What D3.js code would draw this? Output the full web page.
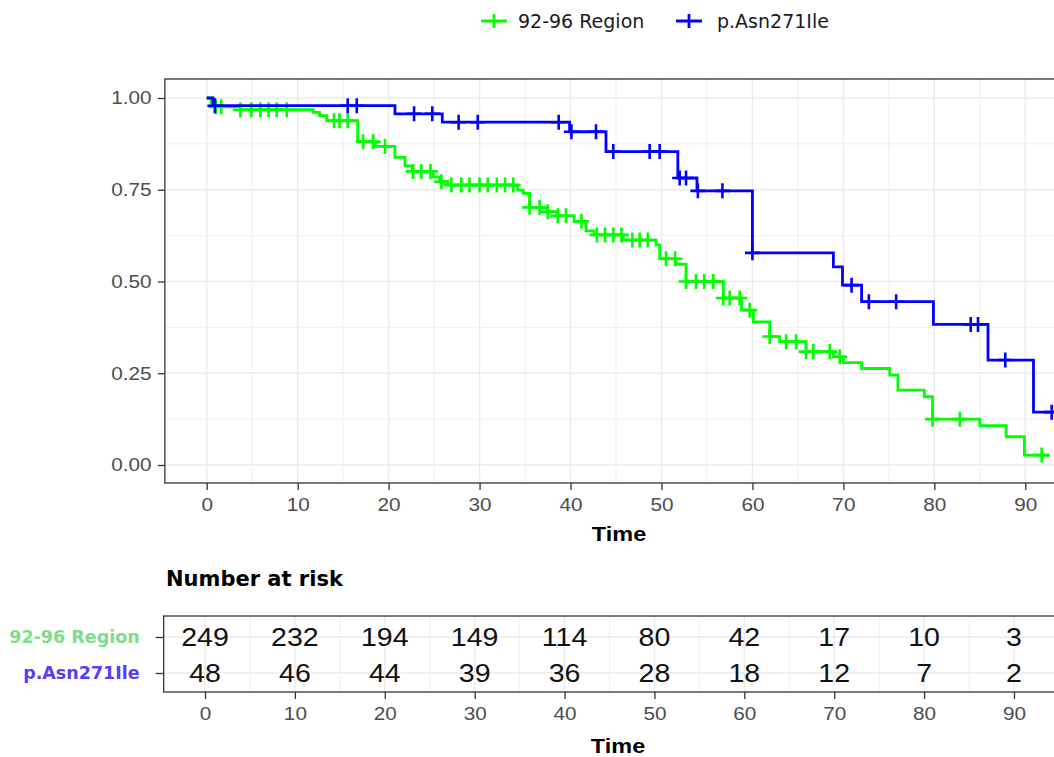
<!DOCTYPE html>
<html>
<head>
<meta charset="utf-8">
<script src="https://cdn.jsdelivr.net/npm/d3@7"></script>
<style>
  body { margin: 0; background: #fff; }
  svg { display: block; }
</style>
</head>
<body>
<div id="plot"></div>
<script>
// groups
var groups = ['92-96 Region', 'p.Asn271Ile'];
var lineColors = ['#00ff00', '#0000ff'];
var labelColors = ['#7fdc8e', '#5a3cf4'];

// 92-96 region: step times and survival after each step
var regionTimes = [0, 0.5, 3.7, 11.7, 12.4, 13.2, 16.6, 18.5, 20.7, 21.8, 22.6, 24.9, 25.6, 26.5, 34.2, 34.8,
    35.5, 37.4, 38.5, 40.4, 41.7, 42.6, 45.8, 49.4, 49.8, 51.6, 52.7, 56.8, 58.8, 60.1, 61.9, 63.0,
    65.9, 68.9, 70.0, 72.0, 75.1, 76.0, 78.9, 79.8, 85.0, 87.9, 89.9];
var regionSurv = [1, 0.976, 0.968, 0.961, 0.952, 0.938, 0.881, 0.868, 0.838, 0.815, 0.8, 0.785, 0.772, 0.763, 0.749, 0.74,
    0.702, 0.69, 0.679, 0.664, 0.638, 0.627, 0.613, 0.6, 0.562, 0.547, 0.5, 0.455, 0.422, 0.39, 0.35, 0.336,
    0.309, 0.295, 0.279, 0.263, 0.245, 0.204, 0.186, 0.125, 0.107, 0.077, 0.027];
var regionCensor = [1.0, 1.6, 3.7, 4.9, 5.9, 6.8, 7.7, 8.8, 14.0, 14.6, 15.5, 17.2, 18.3, 19.6, 22.7, 23.6, 24.6,
    25.8, 26.9, 28.0, 28.9, 30.0, 30.9, 31.9, 32.8, 33.7, 35.5, 36.6, 37.5, 38.6, 39.5, 41.2, 42.9, 43.8,
    44.7, 45.6, 46.8, 47.6, 48.5, 50.5, 51.5, 52.7, 53.8, 54.7, 55.7, 56.8, 57.5, 58.6, 59.7, 61.9, 63.7,
    64.8, 65.9, 66.7, 68.5, 69.6, 79.8, 82.8, 91.8];
var regionEnd = 92.7;

// p.Asn271Ile
var asnTimes = [0, 0.7, 20.7, 25.9, 39.9, 43.9, 51.8, 53.9, 60.0, 68.9, 69.9, 72.0, 79.9, 85.9, 90.9];
var asnSurv = [1, 0.979, 0.957, 0.934, 0.908, 0.854, 0.782, 0.747, 0.578, 0.54, 0.49, 0.445, 0.383, 0.286, 0.144];
var asnCensor = [0.9, 15.5, 16.5, 22.8, 24.8, 27.7, 29.8, 38.7, 40.1, 42.8, 44.7, 48.7, 49.8, 52.0, 52.7, 54.0,
    56.7, 60.0, 70.9, 72.8, 75.8, 84.0, 84.8, 87.8, 92.9];
var asnEnd = 95;

// number at risk table
var riskTimes = [0, 10, 20, 30, 40, 50, 60, 70, 80, 90];
var regionRisk = [249, 232, 194, 149, 114, 80, 42, 17, 10, 3];
var asnRisk = [48, 46, 44, 39, 36, 28, 18, 12, 7, 2];

var xTicks = [0, 10, 20, 30, 40, 50, 60, 70, 80, 90];
var yTicks = [0, 0.25, 0.5, 0.75, 1];

// svg container
var width = 1054;
var height = 757;
var stretch = 1.12;
var armFont = "'Liberation Sans', Arial, sans-serif";
var dvFont = "'DejaVu Sans', sans-serif";

var svg = d3.select('#plot').append('svg')
    .attr('width', width)
    .attr('height', height);

svg.append('rect').attr('width', width).attr('height', height).attr('fill', '#fff');

// main panel scales
var xLo = -4.6, xHi = 96.6;
var mainTop = 79, mainBottom = 483;
var xMain = d3.scaleLinear().domain([0, 90]).range([206.7, 1025.3]);
var yMain = d3.scaleLinear().domain([0, 1]).range([465, 98]);

var series = [
    { name: groups[0], times: regionTimes, surv: regionSurv, censor: regionCensor, end: regionEnd, color: lineColors[0] },
    { name: groups[1], times: asnTimes, surv: asnSurv, censor: asnCensor, end: asnEnd, color: lineColors[1] }
];

function survAt(s, t) {
    return s.surv[d3.bisectRight(s.times, t) - 1];
}

// grid
var grid = svg.append('g');
grid.selectAll('.vg')
    .data(d3.range(0, 100, 5))
    .enter()
    .append('line')
    .attr('x1', d => xMain(d)).attr('x2', d => xMain(d))
    .attr('y1', mainTop).attr('y2', mainBottom)
    .attr('stroke', '#ebebeb')
    .attr('stroke-width', d => d % 10 === 0 ? 1.4 : 0.8);

grid.selectAll('.hg')
    .data(d3.range(0, 9))
    .enter()
    .append('line')
    .attr('x1', xMain(xLo)).attr('x2', xMain(xHi))
    .attr('y1', d => yMain(d * 0.125)).attr('y2', d => yMain(d * 0.125))
    .attr('stroke', '#ebebeb')
    .attr('stroke-width', d => d % 2 === 0 ? 1.4 : 0.8);

svg.append('rect')
    .attr('x', xMain(xLo))
    .attr('y', mainTop)
    .attr('width', xMain(xHi) - xMain(xLo))
    .attr('height', mainBottom - mainTop)
    .attr('fill', 'none')
    .attr('stroke', '#333')
    .attr('stroke-width', 1.3);

// curves
var stepLine = d3.line()
    .curve(d3.curveStepAfter)
    .x(d => xMain(d[0]))
    .y(d => yMain(d[1]));

series.forEach(function(s) {
    var pts = s.times.map((t, i) => [t, s.surv[i]]);
    pts.push([s.end, s.surv[s.surv.length - 1]]);

    svg.append('path')
        .datum(pts)
        .attr('d', stepLine)
        .attr('fill', 'none')
        .attr('stroke', s.color)
        .attr('stroke-width', 2.8);

    svg.append('g').selectAll('path')
        .data(s.censor)
        .enter()
        .append('path')
        .attr('transform', d => `translate(${xMain(d)},${yMain(survAt(s, d))})`)
        .attr('d', 'M-7.5,0H7.5M0,-7.5V7.5')
        .attr('stroke', s.color)
        .attr('stroke-width', 2.6);
});

// axes
function styleAxis(g) {
    g.select('.domain').remove();
    g.attr('font-family', armFont).attr('font-size', 18.5).attr('color', '#4d4d4d');
    g.selectAll('.tick line').attr('stroke', '#333').attr('stroke-width', 1.3);
}

var leftAxis = d3.axisLeft(yMain).tickValues(yTicks).tickFormat(d3.format('.2f')).tickSize(7).tickPadding(5);
svg.append('g')
    .attr('transform', `translate(${xMain(xLo)},0)`)
    .call(leftAxis)
    .call(styleAxis)
    .selectAll('text').attr('transform', `scale(${stretch},1)`);

var bottomAxis = d3.axisBottom(xMain).tickValues(xTicks).tickSize(7).tickPadding(8);
svg.append('g')
    .attr('transform', `translate(0,${mainBottom})`)
    .call(bottomAxis)
    .call(styleAxis)
    .selectAll('text').attr('transform', `scale(${stretch},1)`);

svg.append('text')
    .attr('transform', `translate(619,541) scale(${stretch},1)`)
    .attr('text-anchor', 'middle')
    .attr('font-family', armFont)
    .attr('font-weight', 'bold')
    .attr('font-size', 21)
    .text('Time');

// legend
var legend = svg.append('g').attr('transform', 'translate(0,21)');
var legendX = [494, 689];
var textX = [518, 717];
groups.forEach(function(g, i) {
    legend.append('path')
        .attr('d', `M${legendX[i] - 13},0H${legendX[i] + 13}M${legendX[i]},-7V7`)
        .attr('stroke', lineColors[i])
        .attr('stroke-width', 2.8);
    legend.append('text')
        .attr('x', textX[i])
        .attr('y', 7)
        .attr('font-family', dvFont)
        .attr('font-size', 19)
        .attr('fill', '#1a1a1a')
        .text(g);
});

// number at risk table
var riskTop = 616, riskBottom = 692;
var xRisk = d3.scaleLinear().domain([0, 90]).range([205, 1014]);
var yRisk = d3.scalePoint().domain(groups).range([637, 673]);

svg.append('text')
    .attr('x', 166)
    .attr('y', 586)
    .attr('font-family', dvFont)
    .attr('font-weight', 'bold')
    .attr('font-size', 21)
    .text('Number at risk');

var riskGrid = svg.append('g');
riskGrid.selectAll('line.v')
    .data(d3.range(0, 100, 5))
    .enter()
    .append('line')
    .attr('x1', d => xRisk(d)).attr('x2', d => xRisk(d))
    .attr('y1', riskTop).attr('y2', riskBottom)
    .attr('stroke', '#ebebeb')
    .attr('stroke-width', d => d % 10 === 0 ? 1.4 : 0.8);
riskGrid.selectAll('line.h')
    .data(groups)
    .enter()
    .append('line')
    .attr('x1', xRisk(xLo)).attr('x2', xRisk(xHi))
    .attr('y1', d => yRisk(d)).attr('y2', d => yRisk(d))
    .attr('stroke', '#ebebeb')
    .attr('stroke-width', 1.4);

svg.append('rect')
    .attr('x', xRisk(xLo))
    .attr('y', riskTop)
    .attr('width', xRisk(xHi) - xRisk(xLo))
    .attr('height', riskBottom - riskTop)
    .attr('fill', 'none')
    .attr('stroke', '#333')
    .attr('stroke-width', 1.3);

var riskRows = [regionRisk, asnRisk];
riskRows.forEach(function(row, i) {
    svg.append('g').selectAll('text')
        .data(riskTimes)
        .enter()
        .append('text')
        .attr('transform', (d) => `translate(${xRisk(d)},${yRisk(groups[i])}) scale(${stretch},1)`)
        .attr('dy', '0.36em')
        .attr('text-anchor', 'middle')
        .attr('font-family', armFont)
        .attr('font-size', 25.5)
        .attr('fill', '#111')
        .text((d, j) => row[j]);
});

var riskLeft = d3.axisLeft(yRisk).tickSize(8).tickPadding(16);
svg.append('g')
    .attr('transform', `translate(${xRisk(xLo)},0)`)
    .call(riskLeft)
    .call(styleAxis)
    .selectAll('text')
    .attr('font-family', dvFont)
    .attr('font-weight', 'bold')
    .attr('font-size', 17.5)
    .attr('fill', (d, i) => labelColors[i]);

var riskBottomAxis = d3.axisBottom(xRisk).tickValues(xTicks).tickSize(7).tickPadding(8);
svg.append('g')
    .attr('transform', `translate(0,${riskBottom})`)
    .call(riskBottomAxis)
    .call(styleAxis)
    .selectAll('text').attr('transform', `scale(${stretch},1)`);

svg.append('text')
    .attr('transform', `translate(618,753) scale(${stretch},1)`)
    .attr('text-anchor', 'middle')
    .attr('font-family', armFont)
    .attr('font-weight', 'bold')
    .attr('font-size', 21)
    .text('Time');
</script>
</body>
</html>
